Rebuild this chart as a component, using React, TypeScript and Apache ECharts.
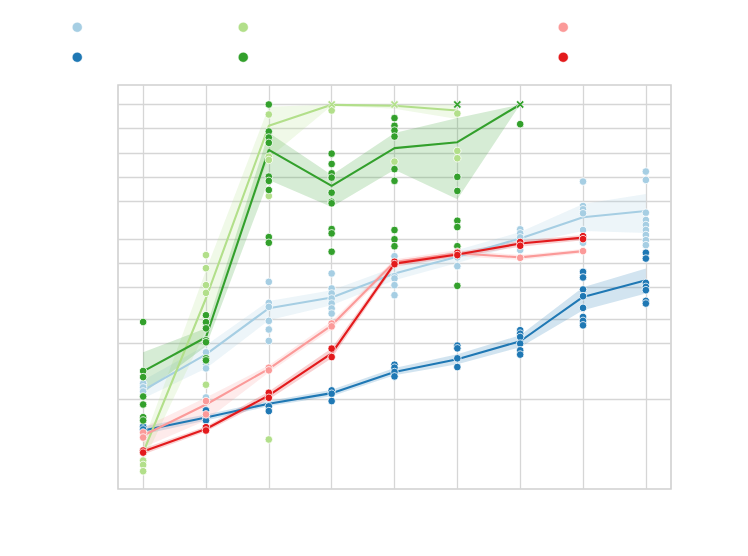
import React, { useEffect, useRef } from 'react';
import * as echarts from 'echarts';

// x positions of the nine (unlabelled) categories
const CATEGORIES = [0, 1, 2, 3, 4, 5, 6, 7, 8];
// horizontal grid lines (log scale)
const Y_TICKS = [0.2, 1, 2, 5, 10, 20, 60, 120, 240, 480, 960];
const TIMEOUT = 960;
const Y_MIN = 0.01537;
const Y_MAX = 1680;

// ---- light blue ----
const LB_POINTS = [
  [0.319, 0.284, 0.253],
  [0.778, 0.551, 0.491, 0.213],
  [5.89, 3.22, 2.87, 1.92, 1.5, 1.08],
  [7.5, 4.87, 4.22, 3.65, 3.16, 2.74, 2.37],
  [12.3, 6.94, 6.49, 5.36, 4.02],
  [11.9, 9.25],
  [26.6, 23.7, 21.1, 14.7],
  [105, 52, 47.3, 42.2, 26.1, 18.1],
  [140, 110, 42.9, 34.8, 30.1, 26.1, 22.6, 19.5, 16.9],
];
const LB_MEAN = [0.261, 0.735, 2.76, 3.76, 7.5, 12.1, 20.5, 37.6, 45.1];
const LB_HI = [0.348, 0.952, 3.41, 4.64, 8.99, 14.7, 24.6, 55.1, 73.5];
const LB_LO = [0.207, 0.491, 1.95, 3.01, 6.18, 10.1, 17.4, 25.3, 23.9];

// ---- dark blue ----
const DB_POINTS = [
  [0.0925, 0.0849],
  [0.147, 0.123, 0.11],
  [0.165, 0.144],
  [0.261, 0.237, 0.192],
  [0.546, 0.501, 0.442, 0.39],
  [0.944, 0.873, 0.655, 0.51],
  [1.47, 1.33, 1.21, 1.0, 0.825, 0.729],
  [7.85, 6.68, 4.73, 3.9, 2.79, 2.15, 1.92, 1.69],
  [13.6, 11.5, 5.72, 5.1, 4.64, 3.41, 3.16],
];
const DB_MEAN = [0.0824, 0.12, 0.178, 0.241, 0.442, 0.637, 1.07, 3.82, 6.18];
const DB_HI = [0.0925, 0.131, 0.193, 0.265, 0.498, 0.735, 1.27, 5.06, 8.66];
const DB_LO = [0.0735, 0.11, 0.165, 0.22, 0.402, 0.551, 0.899, 2.61, 4.22];

// ---- light green ----
const LG_POINTS = [
  [0.0348, 0.0307, 0.0256],
  [12.7, 8.73, 5.36, 4.29, 0.307],
  [720, 215, 195, 69.4, 0.0637],
  [808],
  [186],
  [741, 253, 205],
];
const LG_TIMEOUT_CATS = [3, 4];
const LG_MEAN = [0.0437, 3.68, 520, 950, 925, 808];
const LG_HI = [0.0583, 8.24, 899, 960, 960, 960];
const LG_LO = [0.0328, 1.47, 207, 925, 849, 631];

// ---- dark green ----
const DG_POINTS = [
  [1.86, 0.455, 0.382, 0.219, 0.174, 0.121, 0.11],
  [2.26, 1.85, 1.55, 1.1, 1.04, 0.655, 0.618],
  [960, 442, 372, 319, 121, 107, 82.4, 21.3, 18.1],
  [234, 174, 133, 117.5, 76.3, 58.9, 56.2, 26.8, 23.7, 14],
  [649, 520, 454, 382, 150, 107, 26.1, 20, 16.4],
  [120, 80.2, 34.1, 28.4, 16.4, 5.25],
  [546],
];
const DG_TIMEOUT_CATS = [5, 6];
const DG_MEAN = [0.45, 1.2, 261, 92.5, 274, 325, 960];
const DG_HI = [0.78, 1.55, 425, 127, 422, 649, 960];
const DG_LO = [0.24, 0.925, 110, 50.6, 147, 63, 960];

// ---- pink ----
const PK_POINTS = [
  [0.0778, 0.0674],
  [0.192, 0.131],
  [0.501, 0.464],
  [1.78, 1.64],
  [10.2],
  [14.0],
  [11.75],
  [14.25],
];
const PK_MEAN = [0.0714, 0.174, 0.484, 1.69, 10.4, 13.4, 11.9, 14.25];
const PK_HI = [0.0899, 0.213, 0.536, 1.9, 11.3, 14.7, 12.7, 15.1];
const PK_LO = [0.0506, 0.11, 0.4375, 1.51, 9.53, 12.3, 11.0, 13.4];

// ---- red ----
const RD_POINTS = [
  [0.0464, 0.0437],
  [0.0907, 0.0824],
  [0.244, 0.211],
  [0.866, 0.68],
  [10.5, 9.8],
  [13.6, 12.7],
  [18.5, 16.6],
  [21.9, 20.1],
];
const RD_MEAN = [0.045, 0.0861, 0.226, 0.757, 9.94, 12.9, 17.7, 21.0];
const RD_HI = [0.0491, 0.0925, 0.253, 0.873, 10.8, 13.8, 19.3, 22.6];
const RD_LO = [0.0413, 0.0801, 0.201, 0.655, 9.12, 12.0, 16.2, 19.5];

const GROUPS = [
  { name: 'g1', color: '#a6cee3', points: LB_POINTS, mean: LB_MEAN, lo: LB_LO, hi: LB_HI, timeouts: [] as number[], legend: [77, 27] },
  { name: 'g2', color: '#1f78b4', points: DB_POINTS, mean: DB_MEAN, lo: DB_LO, hi: DB_HI, timeouts: [] as number[], legend: [77, 57] },
  { name: 'g3', color: '#b2df8a', points: LG_POINTS, mean: LG_MEAN, lo: LG_LO, hi: LG_HI, timeouts: LG_TIMEOUT_CATS, legend: [243, 27] },
  { name: 'g4', color: '#33a02c', points: DG_POINTS, mean: DG_MEAN, lo: DG_LO, hi: DG_HI, timeouts: DG_TIMEOUT_CATS, legend: [243, 57] },
  { name: 'g5', color: '#fb9a99', points: PK_POINTS, mean: PK_MEAN, lo: PK_LO, hi: PK_HI, timeouts: [] as number[], legend: [563, 27] },
  { name: 'g6', color: '#e31a1c', points: RD_POINTS, mean: RD_MEAN, lo: RD_LO, hi: RD_HI, timeouts: [] as number[], legend: [563, 57] },
];

const X_SYMBOL = 'path://M0,2L2,0L5,3L8,0L10,2L7,5L10,8L8,10L5,7L2,10L0,8L3,5Z';

function buildOption() {
  const series: any[] = [];
  GROUPS.forEach((g) => {
    const lo = g.lo;
    const hi = g.hi;
    series.push({
      type: 'custom',
      name: g.name + '-band',
      silent: true,
      z: 2,
      data: [[0, 1]],
      encode: { x: 0, y: 1 },
      renderItem: (_p: any, api: any) => {
        const upper = hi.map((v, i) => api.coord([CATEGORIES[i], v]));
        const lower = lo.map((v, i) => api.coord([CATEGORIES[i], v])).reverse();
        return {
          type: 'polygon',
          shape: { points: upper.concat(lower) },
          style: { fill: g.color, opacity: 0.2 },
        };
      },
    });
  });
  GROUPS.forEach((g) => {
    series.push({
      type: 'line',
      name: g.name + '-mean',
      z: 3,
      silent: true,
      symbol: 'none',
      data: g.mean.map((v, i) => [CATEGORIES[i], v]),
      lineStyle: { color: g.color, width: 2.1 },
      itemStyle: { color: g.color },
    });
  });
  GROUPS.forEach((g) => {
    const pts: number[][] = [];
    g.points.forEach((arr, i) => arr.forEach((v) => pts.push([CATEGORIES[i], v])));
    series.push({
      type: 'scatter',
      name: g.name,
      z: 4,
      symbol: 'circle',
      symbolSize: 7.5,
      data: pts,
      itemStyle: { color: g.color, borderColor: '#ffffff', borderWidth: 0.8, opacity: 1 },
    });
    if (g.timeouts.length) {
      series.push({
        type: 'scatter',
        name: g.name + '-timeout',
        z: 4,
        symbol: X_SYMBOL,
        symbolSize: 8,
        data: g.timeouts.map((c) => [CATEGORIES[c], TIMEOUT]),
        itemStyle: { color: g.color, borderColor: '#ffffff', borderWidth: 0.6, opacity: 1 },
      });
    }
  });

  const legend = GROUPS.map((g) => ({
    data: [g.name],
    left: g.legend[0] - 5,
    top: g.legend[1] - 5,
    padding: 0,
    icon: 'circle',
    itemWidth: 10,
    itemHeight: 10,
    selectedMode: false,
    formatter: () => '',
    itemStyle: { borderColor: '#ffffff', borderWidth: 0.5 },
    textStyle: { fontSize: 1 },
  }));

  return {
    animation: false,
    backgroundColor: '#ffffff',
    legend,
    grid: {
      left: 118,
      top: 85,
      width: 553,
      height: 404,
      show: true,
      borderColor: '#d0d0d0',
      borderWidth: 1.6,
      backgroundColor: 'transparent',
    },
    xAxis: {
      type: 'value',
      min: -0.4,
      max: 8.4,
      axisLine: { show: false },
      axisTick: { show: false, customValues: CATEGORIES },
      axisLabel: { show: false },
      splitLine: { show: true, lineStyle: { color: '#d6d6d6', width: 1.3 } },
    },
    yAxis: {
      type: 'log',
      logBase: 10,
      min: Y_MIN,
      max: Y_MAX,
      axisLine: { show: false },
      axisTick: { show: false, customValues: Y_TICKS },
      axisLabel: { show: false },
      splitLine: { show: true, lineStyle: { color: '#d6d6d6', width: 1.3 } },
    },
    series,
  };
}

export default function App() {
  const ref = useRef<HTMLDivElement>(null);
  useEffect(() => {
    if (!ref.current) return;
    const chart = echarts.init(ref.current, undefined, { renderer: 'svg' });
    chart.setOption(buildOption() as any);
    return () => chart.dispose();
  }, []);
  return (
    <div
      ref={ref}
      style={{ position: 'fixed', left: 0, top: 0, width: 748, height: 556, background: '#ffffff' }}
    />
  );
}
